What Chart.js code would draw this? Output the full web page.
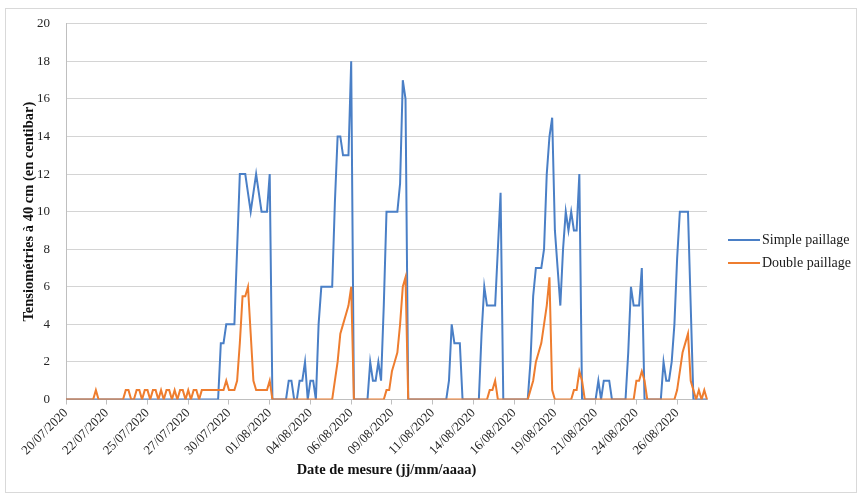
<!DOCTYPE html>
<html>
<head>
<meta charset="utf-8">
<script src="https://cdn.jsdelivr.net/npm/chart.js@4.4.1/dist/chart.umd.min.js"></script>
<style>
html,body{margin:0;padding:0;background:#ffffff;}
#wrap{position:relative;width:860px;height:495px;}
#frame{position:absolute;left:5px;top:8px;width:850px;height:483px;border:1px solid #d9d9d9;pointer-events:none;}
canvas{position:absolute;left:0;top:0;}
</style>
</head>
<body>
<div id="wrap"><canvas id="c" width="860" height="495"></canvas><div id="frame"></div></div>
<script>
// Tick labels shown on the category axis (one every 15 readings)
const tickLabels = ['20/07/2020','22/07/2020','25/07/2020','27/07/2020','30/07/2020','01/08/2020',
  '04/08/2020','06/08/2020','09/08/2020','11/08/2020','14/08/2020','16/08/2020',
  '19/08/2020','21/08/2020','24/08/2020','26/08/2020'];

const seriesNames = ['Simple paillage', 'Double paillage'];

// Tensiometer readings (centibar), one every 4 hours from 20/07/2020 00:00
const simplePaillage = [
  0,0,0,0,0,0,0,0,0,0,0,0,0,0,0,
  0,0,0,0,0,0,0,0,0,0,0,0,0,0,0,
  0,0,0,0,0,0,0,0,0,0,0,0,0,0,0,
  0,0,0,0,0,0,0,0,0,0,0,0,3,3,4,
  4,4,4,8,12,12,12,11,10,11,12,11,10,10,10,
  12,0,0,0,0,0,0,1,1,0,0,1,1,2,0,
  1,1,0,4,6,6,6,6,6,10.5,14,14,13,13,13,
  18,0,0,0,0,0,0,2,1,1,2,1,5,10,10,
  10,10,10,11.5,17,16,0,0,0,0,0,0,0,0,0,
  0,0,0,0,0,0,1,4,3,3,3,0,0,0,0,
  0,0,0,3.5,6,5,5,5,5,8,11,0,0,0,0,
  0,0,0,0,0,0,2,5.5,7,7,7,8,12,14,15,
  9,7,5,8,10,9,10,9,9,12,0,0,0,0,0,
  0,1,0,1,1,1,0,0,0,0,0,0,2.5,6,5,
  5,5,7,0,0,0,0,0,0,0,2,1,1,2,4,
  7.5,10,10,10,10,5,0,0,0,0,0,0
];
const doublePaillage = [
  0,0,0,0,0,0,0,0,0,0,0,0.5,0,0,0,
  0,0,0,0,0,0,0,0.5,0.5,0,0,0.5,0.5,0,0.5,
  0.5,0,0.5,0.5,0,0.5,0,0.5,0.5,0,0.5,0,0.5,0.5,0,
  0.5,0,0.5,0.5,0,0.5,0.5,0.5,0.5,0.5,0.5,0.5,0.5,0.5,1,
  0.5,0.5,0.5,1,3,5.5,5.5,6,3.5,1,0.5,0.5,0.5,0.5,0.5,
  1,0,0,0,0,0,0,0,0,0,0,0,0,0,0,
  0,0,0,0,0,0,0,0,0,1,2,3.5,4,4.5,5,
  6,0,0,0,0,0,0,0,0,0,0,0,0,0.5,0.5,
  1.5,2,2.5,4,6,6.5,0,0,0,0,0,0,0,0,0,
  0,0,0,0,0,0,0,0,0,0,0,0,0,0,0,
  0,0,0,0,0,0,0.5,0.5,1,0,0,0,0,0,0,
  0,0,0,0,0,0,0.5,1,2,2.5,3,4,5,6.5,0.5,
  0,0,0,0,0,0,0,0.5,0.5,1.5,1,0,0,0,0,
  0,0,0,0,0,0,0,0,0,0,0,0,0,0,0,
  1,1,1.5,1,0,0,0,0,0,0,0,0,0,0,0,
  0.5,1.5,2.5,3,3.5,1,0.5,0,0.5,0,0.5,0
];

const seriesColors = ['#4a7fc6', '#ee7d2f'];
const TICK_EVERY = 15;

// Category labels: measurement timestamps (4-hourly)
const categories = [];
for (let i = 0; i < simplePaillage.length; i++) {
  const d = new Date(2020, 6, 20, 4 * i);
  const p = n => String(n).padStart(2, '0');
  categories.push(p(d.getDate()) + '/' + p(d.getMonth() + 1) + '/' + d.getFullYear() + ' ' + p(d.getHours()) + ':00');
}

const SERIF = "'Liberation Serif', 'Times New Roman', serif";

const legendPlugin = {
  id: 'sideLegend',
  afterDraw(chart) {
    const ctx = chart.ctx;
    ctx.save();
    ctx.font = '14px ' + SERIF;
    ctx.textBaseline = 'middle';
    ctx.textAlign = 'left';
    chart.data.datasets.forEach((ds, i) => {
      const y = 240 + i * 23;
      ctx.strokeStyle = ds.borderColor;
      ctx.lineWidth = 2;
      ctx.beginPath();
      ctx.moveTo(728, y);
      ctx.lineTo(760, y);
      ctx.stroke();
      ctx.fillStyle = '#1a1a1a';
      ctx.fillText(ds.label, 762, y);
    });
    ctx.restore();
  }
};

new Chart(document.getElementById('c'), {
  type: 'line',
  data: {
    labels: categories,
    datasets: [
      { label: seriesNames[0], data: simplePaillage, borderColor: seriesColors[0], backgroundColor: seriesColors[0],
        borderWidth: 2, pointRadius: 0, tension: 0, fill: false, order: 1 },
      { label: seriesNames[1], data: doublePaillage, borderColor: seriesColors[1], backgroundColor: seriesColors[1],
        borderWidth: 2, pointRadius: 0, tension: 0, fill: false, order: 0 }
    ]
  },
  options: {
    responsive: false,
    animation: false,
    devicePixelRatio: 1,
    layout: { padding: { left: 17, top: 22, right: 153, bottom: 12 } },
    plugins: { legend: { display: false }, tooltip: { enabled: false } },
    scales: {
      x: {
        type: 'category',
        offset: false,
        afterFit: s => { s.height = 83.5; },
        grid: {
          drawOnChartArea: false,
          drawTicks: true,
          tickLength: 5,
          tickColor: c => (c.index % TICK_EVERY === 0 ? '#bfbfbf' : 'rgba(0,0,0,0)')
        },
        border: { display: true, color: '#bfbfbf', width: 1 },
        ticks: {
          autoSkip: false,
          maxRotation: 45,
          minRotation: 45,
          padding: 1,
          color: '#262626',
          font: { family: SERIF, size: 13 },
          callback: (v, i) => (i % TICK_EVERY === 0 ? tickLabels[i / TICK_EVERY] : '')
        },
        title: {
          display: true,
          text: 'Date de mesure (jj/mm/aaaa)',
          color: '#111111',
          font: { family: SERIF, size: 14.5, weight: 'bold' },
          padding: { top: 4, bottom: 4 }
        }
      },
      y: {
        min: 0,
        max: 20,
        afterFit: s => { s.width = 49; },
        grid: { color: '#d4d4d4', lineWidth: 1, drawTicks: false },
        border: { display: true, color: '#bfbfbf', width: 1 },
        ticks: {
          stepSize: 2,
          padding: 16,
          color: '#262626',
          font: { family: SERIF, size: 13 }
        },
        title: {
          display: true,
          text: 'Tensiométries à 40 cm (en centibar)',
          color: '#111111',
          font: { family: SERIF, size: 14.5, weight: 'bold' },
          padding: { top: 4, bottom: 4 }
        }
      }
    }
  },
  plugins: [legendPlugin]
});
</script>
</body>
</html>
